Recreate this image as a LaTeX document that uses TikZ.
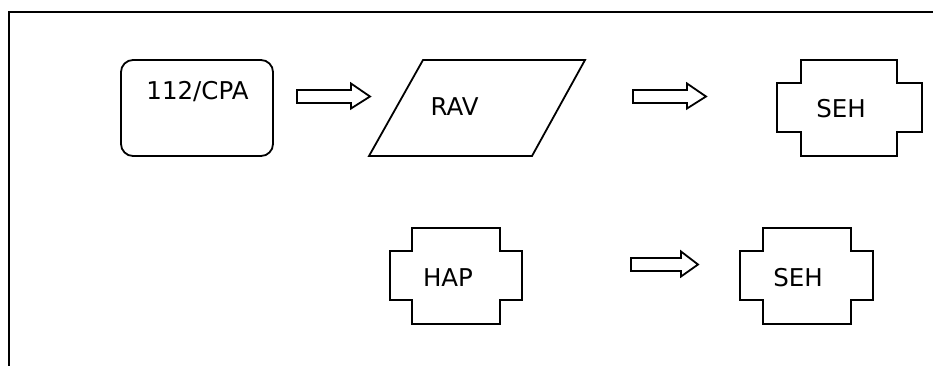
\documentclass[tikz,border=0pt]{standalone}
\usepackage{fontspec}
\setmainfont{DejaVu Sans}
\newcommand{\barrow}[4]{% x-start, x-tip, x-headbase, y-centre
  \draw[shapeline] (#1,#4-6.5) -- (#3,#4-6.5) -- (#3,#4-13) -- (#2,#4) -- (#3,#4+12) -- (#3,#4+6.5) -- (#1,#4+6.5) -- cycle;}
\newcommand{\crossbox}[6]{% outer-left, inner-left, inner-right, outer-right, top, bottom
  \draw[shapeline] (#2,#5) -- (#3,#5) -- (#3,#5+23) -- (#4,#5+23) -- (#4,#6-24) -- (#3,#6-24) -- (#3,#6) -- (#2,#6) -- (#2,#6-24) -- (#1,#6-24) -- (#1,#5+23) -- (#2,#5+23) -- cycle;}
\begin{document}
\begin{tikzpicture}[x=1pt,y=-1pt,
  shapeline/.style={draw=black, line width=1.8pt, line join=miter},
  lbl/.style={font=\fontsize{24.5}{27}\selectfont, anchor=base, inner sep=0pt}]
\useasboundingbox (0,0) rectangle (933,365);
% frame
\draw[line width=2.4pt] (934,12) -- (9,12) -- (9,366);
% row 1
\draw[shapeline, rounded corners=12pt] (121,60) rectangle (273,156);
\node[lbl] (cpa) at (197.5,99) {112/CPA};
\barrow{297}{370}{351}{96.5}
\draw[shapeline] (423,60) -- (585,60) -- (532,156) -- (369,156) -- cycle;
\node[lbl] (rav) at (454.5,115) {RAV};
\barrow{633}{706}{687}{96.5}
\crossbox{777}{801}{897}{922}{60}{156}
\node[lbl] (seha) at (841,117) {SEH};
% row 2
\crossbox{390}{412}{500}{522}{228}{324}
\node[lbl] (hap) at (448,286) {HAP};
\barrow{631}{698}{681}{264.5}
\crossbox{740}{763}{851}{873}{228}{324}
\node[lbl] (sehb) at (798,286) {SEH};
\end{tikzpicture}
\end{document}
